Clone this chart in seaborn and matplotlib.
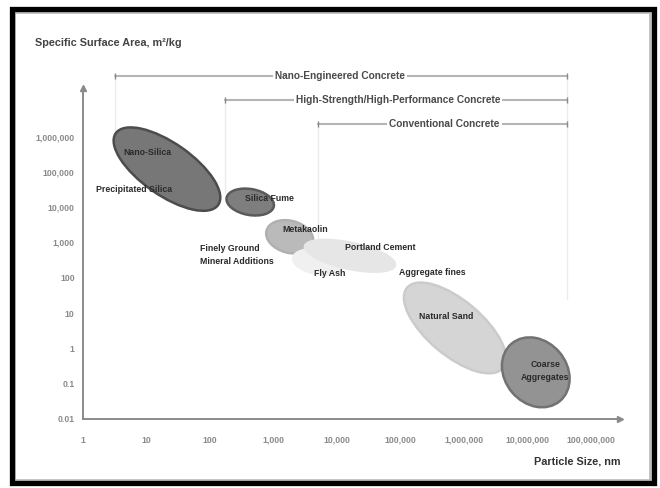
import numpy as np
import matplotlib
matplotlib.use("Agg")
import matplotlib.pyplot as plt
import matplotlib.transforms as mtransforms
from matplotlib.patches import Ellipse, Rectangle
import seaborn as sns

# --- data ---
materials = ["Nano-Silica", "Silica Fume", "Metakaolin", "Fly Ash",
             "Portland Cement", "Natural Sand", "Coarse Aggregates"]
particle_size_nm = [21, 430, 1800, 5000, 16000, 720000, 13500000]
surface_area_m2kg = [120000, 14000, 1450, 280, 420, 3.8, 0.21]

concrete_types = ["Nano-Engineered Concrete",
                  "High-Strength/High-Performance Concrete",
                  "Conventional Concrete"]
range_min_nm = [3.2, 170, 5000]
range_max_nm = [4.2e7, 4.2e7, 4.2e7]

x_ticks = [1, 10, 100, 1000, 10000, 100000, 1000000, 10000000, 100000000]
y_ticks = [0.01, 0.1, 1, 10, 100, 1000, 10000, 100000, 1000000]

# --- styling / layout ---
ell_w = [125, 48, 48, 50, 92, 125, 75]        # px
ell_h = [52, 26, 32, 24, 26, 55, 62]
ell_angle = [-35, -10, -15, -10, -12, -40, -50]
ell_fill = ["#777777", "#7e7e7e", "#bababa", "#f0f0f0", "#e6e6e6", "#d5d5d5", "#939393"]
ell_edge = ["#4c4c4c", "#5a5a5a", "#b0b0b0", "#f0f0f0", "#e6e6e6", "#cbcbcb", "#727272"]

labels = ["Nano-Silica", "Precipitated Silica", "Silica Fume", "Metakaolin",
          "Finely Ground\nMineral Additions", "Portland Cement", "Fly Ash",
          "Aggregate fines", "Natural Sand", "Coarse\nAggregates"]
label_x = [1.02, 0.80, 2.94, 3.50, 1.84, 4.68, 3.89, 5.50, 5.72, 7.28]
label_y = [5.54, 4.49, 4.26, 3.38, 2.65, 2.87, 2.11, 2.16, 0.89, -0.64]
label_ha = ["center", "center", "center", "center", "left", "center",
            "center", "center", "center", "center"]

range_y = [7.72, 7.04, 6.36]
range_text_x = [4.05, 4.96, 5.69]

sns.set_theme(style="white")
plt.rcParams["font.family"] = ["Liberation Sans", "DejaVu Sans"]

fig = plt.figure(figsize=(6.6, 4.88), dpi=100)
ax = fig.add_axes([83 / 660, 69 / 488, 537 / 660, 331 / 488])
xmax = 537 / 63.5
ymin, ymax = -2, -2 + 331 / 35.3
ax.set_xlim(0, xmax)
ax.set_ylim(ymin, ymax)

for s in ["top", "right"]:
    ax.spines[s].set_visible(False)
for s in ["left", "bottom"]:
    ax.spines[s].set_color("#8a8a8a")
    ax.spines[s].set_linewidth(1.4)
ax.plot([xmax], [ymin], marker=">", color="#8a8a8a", ms=4, clip_on=False)
ax.plot([0], [ymax], marker="^", color="#8a8a8a", ms=4, clip_on=False)

ax.set_xticks(np.log10(x_ticks))
ax.set_xticklabels([f"{v:,}" for v in x_ticks])
ax.set_yticks(np.log10(y_ticks))
ax.set_yticklabels([f"{v:,}" if v >= 1 else str(v) for v in y_ticks])
ax.tick_params(axis="both", labelsize=6.2, colors="#8a8a8a", length=3,
               width=1, direction="out", pad=3)
for t in ax.get_xticklabels() + ax.get_yticklabels():
    t.set_fontweight("bold")
ax.tick_params(axis="x", pad=9)

# faint guide lines under range bars
guide_x = [3.2, 170, 5000, 4.2e7]
guide_top = [7.72, 7.04, 6.36, 7.72]
guide_bot = [5.9, 4.4, 3.0, 1.4]
for gx, gt, gb in zip(guide_x, guide_top, guide_bot):
    ax.plot([np.log10(gx)] * 2, [gb, gt], color="#ececec", lw=1, zorder=0,
            clip_on=False)

# ellipses (size in pixels, centred on data point)
for i in range(len(materials)):
    cx, cy = np.log10(particle_size_nm[i]), np.log10(surface_area_m2kg[i])
    off = mtransforms.ScaledTranslation(cx, cy, ax.transData)
    e = Ellipse((0, 0), ell_w[i] / 100, ell_h[i] / 100, angle=ell_angle[i],
                transform=fig.dpi_scale_trans + off,
                facecolor=ell_fill[i], edgecolor=ell_edge[i], lw=1.8, zorder=2)
    ax.add_patch(e)

for txt, lx, ly, ha in zip(labels, label_x, label_y, label_ha):
    ax.text(lx, ly, txt, ha=ha, va="center", fontsize=6.3, fontweight="bold",
            color="#2a2a2a", linespacing=1.5, zorder=5)

# concrete type ranges
for name, lo, hi, ry, tx in zip(concrete_types, range_min_nm, range_max_nm,
                                range_y, range_text_x):
    ax.plot([np.log10(lo), np.log10(hi)], [ry, ry], color="#b5b5b5", lw=1.5,
            clip_on=False, zorder=3)
    ax.plot([np.log10(lo), np.log10(hi)], [ry, ry], ls="none", marker="|",
            ms=4, color="#8a8a8a", clip_on=False, zorder=3)
    ax.text(tx, ry, name, ha="center", va="center", fontsize=7.3,
            fontweight="bold", color="#4a4a4a", zorder=4,
            bbox=dict(facecolor="white", edgecolor="none", pad=1.5))

fig.text(35 / 660, 1 - 43 / 488, "Specific Surface Area, m²/kg", ha="left",
         va="center", fontsize=7.8, fontweight="bold", color="#444444")
fig.text(620 / 660, 1 - 462 / 488, "Particle Size, nm", ha="right",
         va="center", fontsize=7.8, fontweight="bold", color="#333333")

# frame
fig.patches.append(Rectangle((14 / 660, 8 / 488), 636 / 660, 468 / 488,
                             transform=fig.transFigure, fill=False,
                             edgecolor="#bdbdbd", lw=2))
fig.patches.append(Rectangle((12 / 660, 5 / 488), 642 / 660, 474 / 488,
                             transform=fig.transFigure, fill=False,
                             edgecolor="black", lw=3.8))

fig.savefig("out.png", dpi=100)
